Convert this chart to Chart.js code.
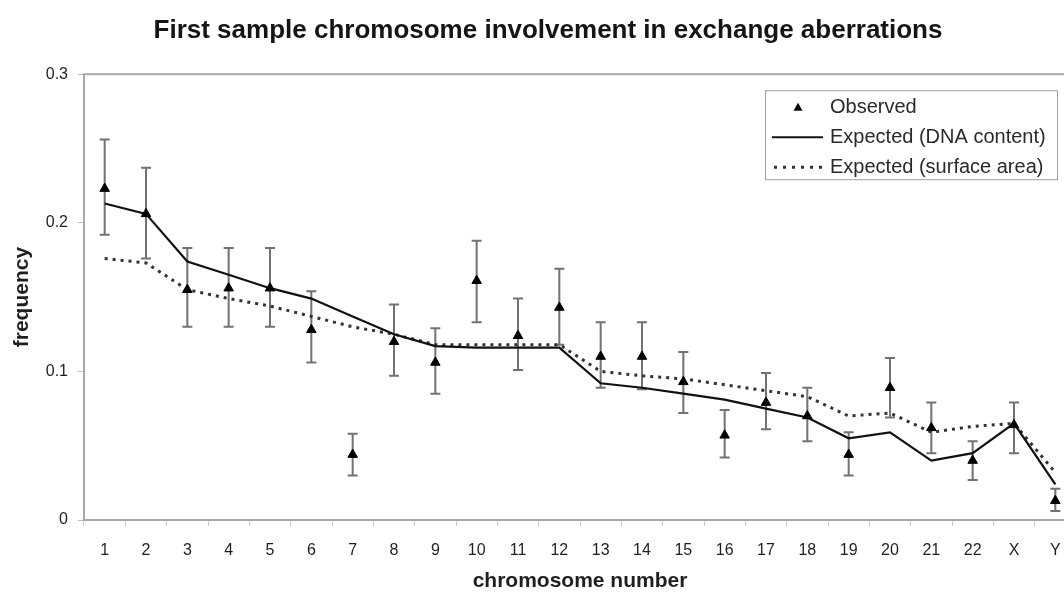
<!DOCTYPE html>
<html>
<head>
<meta charset="utf-8">
<script src="https://cdn.jsdelivr.net/npm/chart.js@4/dist/chart.umd.min.js"></script>
<style>
  html, body { margin: 0; padding: 0; background: #fff; overflow: hidden; }
  #wrap { width: 1096px; height: 594px; }
</style>
</head>
<body>
<div id="wrap"><canvas id="c" width="1096" height="594"></canvas></div>
<script>
const chromosomes = ['1','2','3','4','5','6','7','8','9','10','11','12','13','14','15','16','17','18','19','20','21','22','X','Y'];
const observed = [0.223,0.206,0.155,0.156,0.156,0.128,0.044,0.120,0.106,0.161,0.124,0.143,0.110,0.110,0.093,0.057,0.079,0.070,0.044,0.089,0.062,0.040,0.064,0.013];
const observedUpper = [0.256,0.237,0.183,0.183,0.183,0.154,0.058,0.145,0.129,0.188,0.149,0.169,0.133,0.133,0.113,0.074,0.099,0.089,0.059,0.109,0.079,0.053,0.079,0.021];
const observedLower = [0.192,0.176,0.130,0.130,0.130,0.106,0.030,0.097,0.085,0.133,0.101,0.118,0.089,0.088,0.072,0.042,0.061,0.053,0.030,0.069,0.045,0.027,0.045,0.006];
const expectedDNA = [0.213,0.206,0.174,0.165,0.156,0.149,0.137,0.125,0.117,0.116,0.116,0.116,0.092,0.089,0.085,0.081,0.075,0.069,0.055,0.059,0.040,0.045,0.065,0.024];
const expectedSurface = [0.176,0.173,0.155,0.149,0.144,0.137,0.130,0.125,0.118,0.118,0.118,0.118,0.100,0.097,0.095,0.091,0.087,0.083,0.070,0.072,0.059,0.063,0.065,0.032];
const yTicks = [0, 0.1, 0.2, 0.3];

const FONT = '"Liberation Sans", Arial, sans-serif';
const TEXT = '#1f1f1f';

const titleShiftPlugin = {
  id: 'titleShift',
  afterLayout(chart) {
    const t = chart.titleBlock;
    if (t) { t.left += 10; t.right += 10; }
  }
};

const framePlugin = {
  id: 'frame',
  beforeDatasetsDraw(chart) {
    const {ctx, chartArea: a} = chart;
    ctx.save();
    ctx.strokeStyle = '#a8a8a8';
    ctx.lineWidth = 2;
    ctx.strokeRect(a.left, a.top, a.right - a.left, a.bottom - a.top);
    ctx.restore();
  }
};

const errorBarPlugin = {
  id: 'errorBars',
  beforeDatasetsDraw(chart) {
    const {ctx} = chart;
    const xs = chart.scales.x, ys = chart.scales.y;
    ctx.save();
    ctx.strokeStyle = '#727272';
    ctx.lineWidth = 2;
    const cap = 5;
    for (let i = 0; i < observed.length; i++) {
      const x = xs.getPixelForValue(i);
      const yt = ys.getPixelForValue(observedUpper[i]);
      const yb = ys.getPixelForValue(observedLower[i]);
      ctx.beginPath();
      ctx.moveTo(x, yt); ctx.lineTo(x, yb);
      ctx.moveTo(x - cap, yt); ctx.lineTo(x + cap, yt);
      ctx.moveTo(x - cap, yb); ctx.lineTo(x + cap, yb);
      ctx.stroke();
    }
    ctx.restore();
  }
};

const legendPlugin = {
  id: 'customLegend',
  afterDraw(chart) {
    const {ctx, chartArea: a} = chart;
    const right = a.right - 19, top = a.top + 16;
    const w = 292, h = 89;
    const left = right - w;
    ctx.save();
    ctx.fillStyle = '#fff';
    ctx.fillRect(left, top, w, h);
    ctx.strokeStyle = '#a0a0a0';
    ctx.lineWidth = 1;
    ctx.strokeRect(left + 0.5, top + 0.5, w, h);
    const rows = [top + 17, top + 47, top + 77];
    const sx0 = left + 7, sx1 = left + 58, tx = left + 65;
    ctx.fillStyle = '#000';
    ctx.beginPath();
    const cx = left + 33, cy = rows[0];
    ctx.moveTo(cx, cy - 4.5); ctx.lineTo(cx + 4.5, cy + 3.5); ctx.lineTo(cx - 4.5, cy + 3.5); ctx.closePath();
    ctx.fill();
    ctx.strokeStyle = '#111';
    ctx.lineWidth = 2;
    ctx.beginPath(); ctx.moveTo(sx0, rows[1]); ctx.lineTo(sx1, rows[1]); ctx.stroke();
    ctx.setLineDash([3, 6]);
    ctx.lineWidth = 3;
    ctx.strokeStyle = '#333';
    ctx.beginPath(); ctx.moveTo(sx0 + 2, rows[2]); ctx.lineTo(sx1, rows[2]); ctx.stroke();
    ctx.setLineDash([]);
    ctx.fillStyle = '#2a2a2a';
    ctx.font = '20px ' + FONT;
    ctx.textBaseline = 'middle';
    ctx.textAlign = 'left';
    ctx.fillText('Observed', tx, rows[0]);
    ctx.fillText('Expected (DNA content)', tx, rows[1]);
    ctx.fillText('Expected (surface area)', tx, rows[2]);
    ctx.restore();
  }
};

new Chart(document.getElementById('c'), {
  type: 'line',
  data: {
    labels: chromosomes,
    datasets: [
      {
        label: 'Observed',
        data: observed,
        showLine: false,
        pointStyle: 'triangle',
        pointRadius: 5.5,
        pointBackgroundColor: '#000',
        pointBorderColor: '#000',
        pointBorderWidth: 1,
        order: 0
      },
      {
        label: 'Expected (DNA content)',
        data: expectedDNA,
        borderColor: '#111',
        borderWidth: 2.2,
        pointRadius: 0,
        tension: 0,
        fill: false,
        order: 1
      },
      {
        label: 'Expected (surface area)',
        data: expectedSurface,
        borderColor: '#333',
        borderWidth: 3,
        borderDash: [3, 5],
        pointRadius: 0,
        tension: 0,
        fill: false,
        order: 2
      }
    ]
  },
  options: {
    responsive: false,
    devicePixelRatio: 1,
    animation: false,
    layout: { padding: { left: 0, right: 20, top: 0, bottom: 0 } },
    plugins: {
      legend: { display: false },
      tooltip: { enabled: false },
      title: {
        display: true,
        text: 'First sample chromosome involvement in exchange aberrations',
        color: '#151515',
        font: { family: FONT, size: 26, weight: 'bold' },
        padding: { top: 15, bottom: 28 }
      }
    },
    scales: {
      x: {
        type: 'category',
        offset: true,
        grid: { display: true, drawOnChartArea: false, drawTicks: true, tickLength: 6, color: '#cccccc', offset: true },
        border: { display: false },
        ticks: { color: TEXT, font: { family: FONT, size: 16 }, padding: 15, maxRotation: 0, autoSkip: false },
        title: { display: true, text: 'chromosome number', color: TEXT, font: { family: FONT, size: 21, weight: 'bold' }, padding: 0 },
        afterFit(scale) { scale.height = 74; }
      },
      y: {
        min: 0,
        max: 0.3,
        afterBuildTicks(scale) { scale.ticks = yTicks.map(v => ({ value: v })); },
        grid: { display: true, drawOnChartArea: false, drawTicks: true, tickLength: 6, color: '#bbbbbb' },
        border: { display: false },
        ticks: { color: TEXT, font: { family: FONT, size: 16 }, padding: 10 },
        title: { display: true, text: 'frequency', color: TEXT, font: { family: FONT, size: 21, weight: 'bold' }, padding: { top: 10, bottom: 0 } },
        afterFit(scale) { scale.width = 84; }
      }
    }
  },
  plugins: [titleShiftPlugin, framePlugin, errorBarPlugin, legendPlugin]
});
</script>
</body>
</html>
